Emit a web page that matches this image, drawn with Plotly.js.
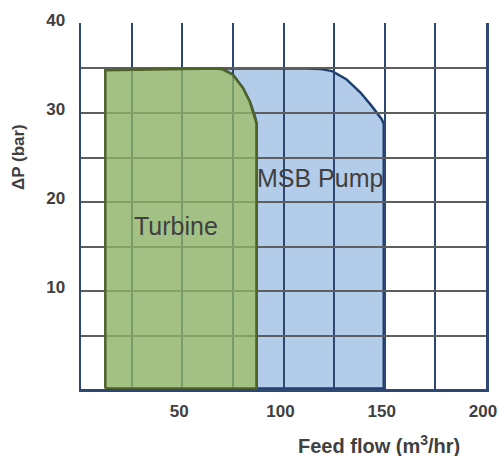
<!DOCTYPE html>
<html>
<head>
<meta charset="utf-8">
<script src="https://cdn.plot.ly/plotly-3.0.1.min.js"></script>
<style>html,body{margin:0;padding:0;background:#fff;}#chart{width:499px;height:456px;}</style>
</head>
<body>
<div id="chart"></div>
<script>
// Operating envelopes (feed flow m3/hr, dP bar)
var turbineX = [12, 12, 66, 70, 75, 80, 83.5, 86, 86.7, 86.7, 12];
var turbineY = [-0.9, 34.8, 35, 34.9, 34.3, 32.8, 31.2, 29.5, 28.8, -0.9, -0.9];
var pumpX = [86.7, 86.7, 86, 83.5, 80, 75, 70, 66, 112, 118, 124, 131, 138, 143.5, 148.5, 149.5, 149.5, 86.7];
var pumpY = [-0.9, 28.8, 29.5, 31.2, 32.8, 34.3, 34.9, 35, 35, 34.95, 34.7, 33.8, 32.3, 30.8, 29.3, 28.8, -0.9, -0.9];
var seriesNames = ["Turbine", "MSB Pump"];
var labelX = [46.7, 118];
var labelY = [17.3, 22.7];
var xTickVals = [25, 50, 75, 100, 125, 150, 175, 200];
var xTickText = ["", "50", "", "100", "", "150", "", "200"];
var yTickVals = [5, 10, 15, 20, 25, 30, 35, 40];
var yTickText = ["", "10", "", "20", "", "30", "", "40"];
var xTitle = "Feed flow (m<sup>3</sup>/hr)";
var yTitle = "ΔP (bar)";

var xRange = [0, 200];
var yRange = [-0.97, 40.1];
var textColor = "#404040";
var tickFont = {family: "Liberation Sans, Arial, sans-serif", size: 17, color: textColor, weight: "bold"};

var traces = [
  {
    type: "scatter", mode: "lines", name: seriesNames[1],
    x: pumpX, y: pumpY, xaxis: "x", yaxis: "y",
    fill: "toself", fillcolor: "#b3cce9",
    line: {color: "#1f3f6e", width: 2.5},
    hoverinfo: "skip", showlegend: false
  },
  {
    type: "scatter", mode: "lines", name: seriesNames[0],
    x: turbineX, y: turbineY, xaxis: "x2", yaxis: "y2",
    fill: "toself", fillcolor: "rgba(140,177,103,0.8)",
    line: {color: "#4f6228", width: 2.5},
    hoverinfo: "skip", showlegend: false
  }
];

var layout = {
  width: 499, height: 456,
  margin: {l: 81, r: 13, t: 23, b: 67},
  paper_bgcolor: "#ffffff", plot_bgcolor: "rgba(0,0,0,0)",
  showlegend: false,
  xaxis: {range: xRange, visible: false, fixedrange: true},
  yaxis: {range: yRange, visible: false, fixedrange: true},
  xaxis2: {
    range: xRange, anchor: "y2", domain: [0, 1],
    tickmode: "array", tickvals: xTickVals, ticktext: xTickText,
    showgrid: true, gridcolor: "#2b4772", gridwidth: 2,
    zeroline: false, showline: true, linecolor: "#2b4772", linewidth: 2.5,
    ticks: "", tickfont: tickFont, ticklabelstandoff: 5, ticklabelshift: -3,
    ticklabeloverflow: "allow"
  },
  yaxis2: {
    range: yRange, anchor: "x2", domain: [0, 1],
    tickmode: "array", tickvals: yTickVals, ticktext: yTickText,
    showgrid: true, gridcolor: "#5e5e5e", gridwidth: 2,
    zeroline: false, showline: true, mirror: true, linecolor: "#2b4772", linewidth: 2.5,
    ticks: "", tickfont: tickFont, ticklabelstandoff: 10, ticklabelshift: -4,
    ticklabeloverflow: "allow"
  },
  annotations: [
    {xref: "x2", yref: "y2", x: labelX[0], y: labelY[0], text: seriesNames[0], showarrow: false,
     xanchor: "center", yanchor: "middle",
     font: {family: "Liberation Sans, Arial, sans-serif", size: 25, color: textColor}},
    {xref: "x2", yref: "y2", x: labelX[1], y: labelY[1], text: seriesNames[1], showarrow: false,
     xanchor: "center", yanchor: "middle",
     font: {family: "Liberation Sans, Arial, sans-serif", size: 25, color: textColor}},
    {xref: "paper", yref: "paper", x: 0.736, y: -0.153, text: xTitle, showarrow: false,
     xanchor: "center", yanchor: "middle",
     font: {family: "Liberation Sans, Arial, sans-serif", size: 20, color: textColor, weight: "bold"}},
    {xref: "paper", yref: "paper", x: -0.153, y: 0.634, text: yTitle, showarrow: false, textangle: -90,
     xanchor: "center", yanchor: "middle",
     font: {family: "Liberation Sans, Arial, sans-serif", size: 17, color: textColor, weight: "bold"}}
  ]
};

Plotly.newPlot("chart", traces, layout, {displayModeBar: false, staticPlot: true});
</script>
</body>
</html>
